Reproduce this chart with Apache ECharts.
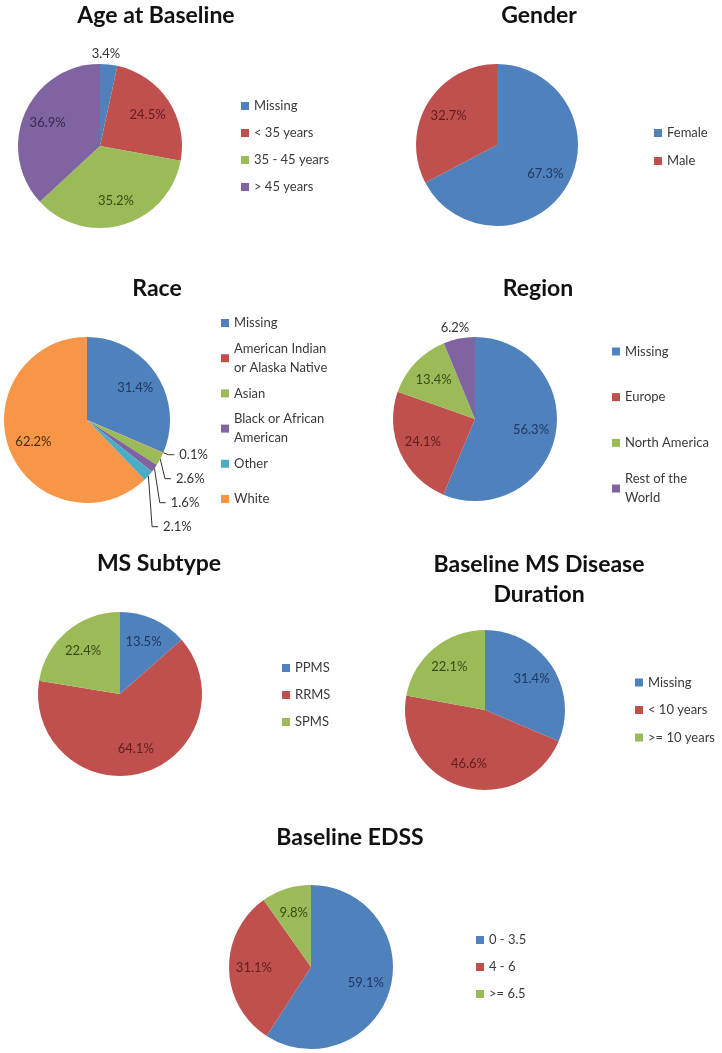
<!DOCTYPE html>
<html>
<head>
<meta charset="utf-8">
<script src="https://cdn.jsdelivr.net/npm/echarts@6/dist/echarts.min.js"></script>
<style>
html,body{margin:0;padding:0;background:#ffffff;}
#chart{width:722px;height:1053px;}
</style>
</head>
<body>
<div id="chart"></div>
<script>
// ---------------- data ----------------
const chartTitles = ['Age at Baseline', 'Gender', 'Race', 'Region', 'MS Subtype', 'Baseline MS Disease Duration', 'Baseline EDSS'];

const ageCategories = ['Missing', '< 35 years', '35 - 45 years', '> 45 years'];
const ageValues = [3.4, 24.5, 35.2, 36.9];

const genderCategories = ['Female', 'Male'];
const genderValues = [67.3, 32.7];

const raceCategories = ['Missing', 'American Indian or Alaska Native', 'Asian', 'Black or African American', 'Other', 'White'];
const raceValues = [31.4, 0.1, 2.6, 1.6, 2.1, 62.2];

const regionCategories = ['Missing', 'Europe', 'North America', 'Rest of the World'];
const regionValues = [56.3, 24.1, 13.4, 6.2];

const subtypeCategories = ['PPMS', 'RRMS', 'SPMS'];
const subtypeValues = [13.5, 64.1, 22.4];

const durationCategories = ['Missing', '< 10 years', '>= 10 years'];
const durationValues = [31.4, 46.6, 22.1];

const edssCategories = ['0 - 3.5', '4 - 6', '>= 6.5'];
const edssValues = [59.1, 31.1, 9.8];

// ---------------- styles / layout ----------------
const palette = ['#4F81BD', '#C0504D', '#9BBB59', '#8064A2', '#4BACC6', '#F79646'];
const labelInk = ['#1F3864', '#5E1F1D', '#3B4A17', '#3A2A55', '#1F5564', '#4A2A0A'];
const FONT = 'Lato, "Open Sans", sans-serif';

const charts = [
  { cats: ageCategories,      vals: ageValues,      title: [156, 16],  center: [100, 146], r: 82, legendX: 241, legendY: 146.5, step: 27,   lh: 16, smallMode: 'top', smallDx: -9 },
  { cats: genderCategories,   vals: genderValues,   title: [539, 16],  center: [497, 145], r: 81, legendX: 654, legendY: 147,   step: 28,   lh: 16 },
  { cats: raceCategories,     vals: raceValues,     title: [157, 289], center: [87, 420],  r: 83, legendX: 221, legendY: 411,   step: 35.2, lh: 19, smallMode: 'line' },
  { cats: regionCategories,   vals: regionValues,   title: [538, 289], center: [475, 419], r: 82, legendX: 612, legendY: 420,   step: 45.7, lh: 19, smallMode: 'top', smallDx: 3 },
  { cats: subtypeCategories,  vals: subtypeValues,  title: [159, 564], center: [120, 694], r: 82, legendX: 282, legendY: 695,   step: 27,   lh: 16 },
  { cats: durationCategories, vals: durationValues, title: [539, 580], center: [485, 710], r: 80, legendX: 635, legendY: 710,   step: 27.5, lh: 16 },
  { cats: edssCategories,     vals: edssValues,     title: [350, 838], center: [311, 967], r: 82, legendX: 476, legendY: 967,   step: 27,   lh: 16 }
];

const SMALL = 7; // slices below this share get an outside label

function wrap(text, maxLen) {
  const words = text.split(' ');
  const lines = [];
  let cur = '';
  words.forEach(w => {
    const cand = cur ? cur + ' ' + w : w;
    if (cand.length > maxLen && cur) { lines.push(cur); cur = w; }
    else cur = cand;
  });
  if (cur) lines.push(cur);
  return lines.join('\n');
}
const pct = p => Number(p.value).toFixed(1) + '%';

// ---------------- option ----------------
const titleOpts = charts.map((c, i) => ({
  text: wrap(chartTitles[i], 20),
  left: c.title[0],
  top: c.title[1],
  textAlign: 'center',
  textVerticalAlign: 'middle',
  padding: 0,
  textStyle: { fontFamily: FONT, fontWeight: 'bold', fontSize: 23, lineHeight: 30, color: '#111111' }
}));

const mainSeries = charts.map((c, i) => ({
  type: 'pie',
  name: chartTitles[i],
  center: c.center,
  radius: c.r,
  startAngle: 90,
  clockwise: true,
  silent: true,
  avoidLabelOverlap: true,
  itemStyle: { borderWidth: 0 },
  emphasis: { disabled: true },
  label: {
    show: true,
    position: 'outside',
    formatter: pct,
    fontFamily: FONT,
    fontSize: 13,
    color: '#333333',
    lineHeight: c.smallMode === 'line' ? 22 : 16
  },
  labelLine: c.smallMode === 'line'
    ? { show: true, length: 5, length2: 6, smooth: false, lineStyle: { color: '#333333', width: 1 } }
    : { show: false, length: 11, length2: 0 },
  labelLayout: c.smallMode === 'top' ? { align: 'center', dx: c.smallDx || 0 } : undefined,
  data: c.cats.map((n, j) => ({
    name: n,
    value: c.vals[j],
    itemStyle: { color: palette[j] },
    label: { show: c.vals[j] < SMALL },
    labelLine: { show: c.smallMode === 'line' && c.vals[j] < SMALL }
  }))
}));

const labelSeries = charts.map((c, i) => ({
  type: 'pie',
  name: chartTitles[i] + ' labels',
  center: c.center,
  radius: [c.r * 0.32, c.r],
  startAngle: 90,
  clockwise: true,
  silent: true,
  z: 3,
  avoidLabelOverlap: false,
  itemStyle: { color: 'rgba(0,0,0,0)', borderWidth: 0 },
  emphasis: { disabled: true },
  label: { show: true, position: 'inside', formatter: pct, fontFamily: FONT, fontSize: 13 },
  labelLine: { show: false },
  data: c.cats.map((n, j) => ({
    name: n,
    value: c.vals[j],
    itemStyle: { color: 'rgba(0,0,0,0)' },
    label: { show: c.vals[j] >= SMALL, color: labelInk[j] }
  }))
}));

const legends = [];
charts.forEach(c => {
  c.cats.forEach((n, j) => {
    const text = wrap(n, 16);
    const lines = text.split('\n').length;
    const pad = (lines - 1) * c.lh;
    const boxH = pad + lines * c.lh;
    const rowY = c.legendY + (j - (c.cats.length - 1) / 2) * c.step;
    legends.push({
      left: c.legendX,
      top: rowY - boxH / 2,
      orient: 'vertical',
      padding: 0,
      selectedMode: false,
      icon: 'rect',
      itemWidth: 8,
      itemHeight: 8,
      formatter: name => wrap(name, 16),
      textStyle: { fontFamily: FONT, fontSize: 13, color: '#3a3a3a', lineHeight: c.lh, padding: [pad, 0, 0, 0] },
      data: [{ name: n, itemStyle: { color: palette[j] } }]
    });
  });
});

const option = {
  backgroundColor: '#ffffff',
  animation: false,
  title: titleOpts,
  legend: legends,
  series: mainSeries.concat(labelSeries)
};

const chart = echarts.init(document.getElementById('chart'), null, { renderer: 'canvas' });
chart.setOption(option);
</script>
</body>
</html>
